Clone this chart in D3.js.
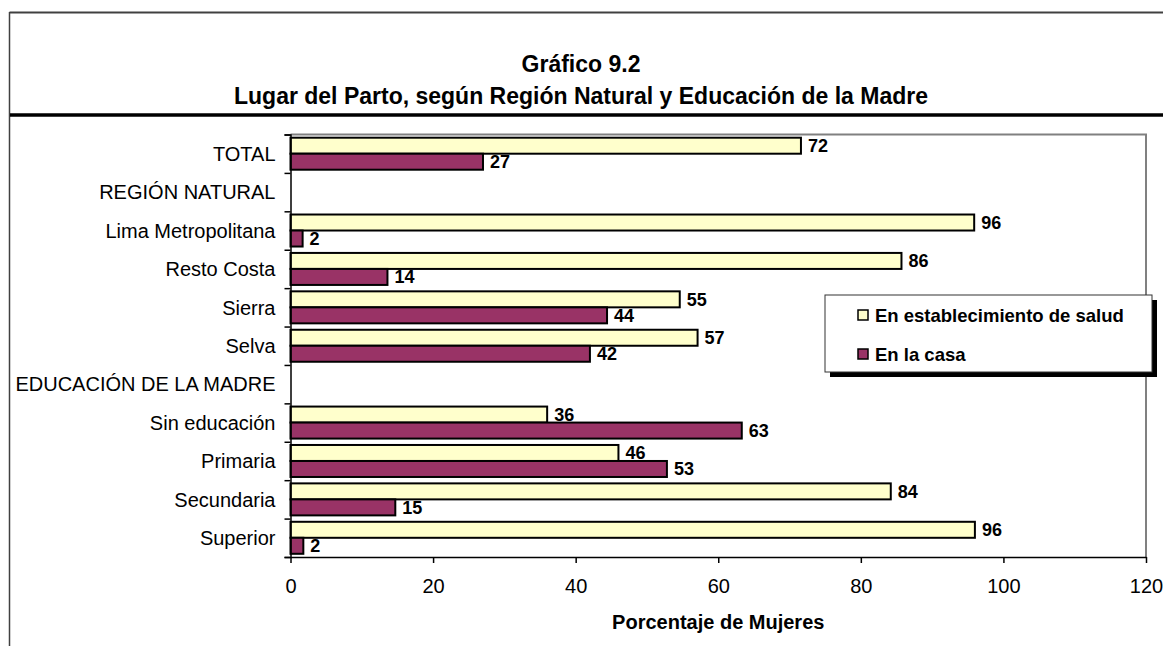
<!DOCTYPE html>
<html>
<head>
<meta charset="utf-8">
<script src="https://cdn.jsdelivr.net/npm/d3@7"></script>
<style>
    body { margin: 0; background: #fff; }
    svg text { font-family: "Liberation Sans", Arial, sans-serif; fill: #000; }
</style>
</head>
<body>
<svg id="chart"></svg>
<script>
const categories = ["TOTAL", "REGIÓN NATURAL", "Lima Metropolitana", "Resto Costa", "Sierra", "Selva",
    "EDUCACIÓN DE LA MADRE", "Sin educación", "Primaria", "Secundaria", "Superior"];
const establecimiento = [71.6, null, 95.9, 85.7, 54.6, 57.1, null, 36.0, 46.0, 84.2, 96.0];
const casa = [27.0, null, 1.7, 13.6, 44.4, 42.0, null, 63.3, 52.8, 14.7, 1.8];
const seriesNames = ["En establecimiento de salud", "En la casa"];
const xTicks = [0, 20, 40, 60, 80, 100, 120];
const titleLines = ["Gráfico 9.2", "Lugar del Parto, según Región Natural y Educación de la Madre"];
const axisTitle = "Porcentaje de Mujeres";

const width = 1163, height = 646;
const plot = { left: 290.5, right: 1146, top: 134.5, bottom: 557 };
const colors = ["#FFFFCC", "#993366"];

const svg = d3.select("#chart")
    .attr("width", width)
    .attr("height", height);

// outer frame and header rule
svg.append("line")
    .attr("x1", 9.5).attr("x2", width).attr("y1", 12.5).attr("y2", 12.5)
    .attr("stroke", "#404040").attr("stroke-width", 2);
svg.append("line")
    .attr("x1", 9.5).attr("x2", 9.5).attr("y1", 12).attr("y2", height)
    .attr("stroke", "#404040").attr("stroke-width", 1.5);
svg.append("line")
    .attr("x1", 10).attr("x2", width).attr("y1", 115).attr("y2", 115)
    .attr("stroke", "#000").attr("stroke-width", 3.5);

svg.selectAll("text.title")
    .data(titleLines)
    .join("text")
    .attr("class", "title")
    .attr("x", 581)
    .attr("y", (d, i) => 64 + i * 32)
    .attr("dy", "0.35em")
    .attr("text-anchor", "middle")
    .style("font-size", "23px")
    .style("font-weight", "bold")
    .text(d => d);

const x = d3.scaleLinear().domain([0, 120]).range([plot.left, plot.right]);
const y = d3.scaleBand().domain(categories).range([plot.top, plot.bottom]);
const sub = d3.scaleBand().domain([0, 1]).range([0, y.bandwidth()]).paddingOuter(0.2);

// plot frame (grey top and right)
svg.append("path")
    .attr("d", `M${plot.left},${plot.top}H${plot.right}V${plot.bottom}`)
    .attr("fill", "none")
    .attr("stroke", "#808080")
    .attr("stroke-width", 2);

const rows = categories.map((c, i) => ({ cat: c, values: [establecimiento[i], casa[i]] }));

const groups = svg.append("g").selectAll("g")
    .data(rows)
    .join("g")
    .attr("transform", d => `translate(0,${y(d.cat)})`);

const bars = groups.selectAll("g.bar")
    .data(d => d.values.map((v, s) => ({ v, s })).filter(e => e.v !== null))
    .join("g")
    .attr("class", "bar");

bars.append("rect")
    .attr("x", x(0))
    .attr("y", d => sub(d.s))
    .attr("width", d => x(d.v) - x(0))
    .attr("height", sub.bandwidth())
    .attr("fill", d => colors[d.s])
    .attr("stroke", "#000")
    .attr("stroke-width", 2);

bars.append("text")
    .attr("x", d => x(d.v) + 7)
    .attr("y", d => sub(d.s) + sub.bandwidth() / 2)
    .attr("dy", "0.36em")
    .style("font-size", "18px")
    .style("font-weight", "bold")
    .text(d => Math.round(d.v));

// category labels
svg.append("g")
    .selectAll("text")
    .data(categories)
    .join("text")
    .attr("x", 275.5)
    .attr("y", d => y(d) + y.bandwidth() / 2)
    .attr("dy", "0.36em")
    .attr("text-anchor", "end")
    .style("font-size", "20px")
    .text(d => d);

// left axis with ticks between categories
const yIdx = d3.scaleLinear().domain([0, categories.length]).range([plot.top, plot.bottom]);
svg.append("g")
    .attr("transform", `translate(${plot.left},0)`)
    .call(d3.axisLeft(yIdx).tickValues(d3.range(categories.length + 1)).tickSize(6).tickFormat(""))
    .call(g => g.selectAll("line, path").attr("stroke", "#000").attr("stroke-width", 1.5));

const xAxis = svg.append("g")
    .attr("transform", `translate(0,${plot.bottom})`)
    .call(d3.axisBottom(x).tickValues(xTicks).tickSize(6).tickPadding(16).tickSizeOuter(0));
xAxis.selectAll("line, path").attr("stroke", "#000").attr("stroke-width", 1.5);
xAxis.selectAll("text")
    .attr("fill", "#000")
    .style("font-family", "'Liberation Sans', Arial, sans-serif")
    .style("font-size", "20px");

svg.append("text")
    .attr("x", x(60))
    .attr("y", 622)
    .attr("dy", "0.35em")
    .attr("text-anchor", "middle")
    .style("font-size", "20px")
    .style("font-weight", "bold")
    .text(axisTitle);

// legend
const legend = svg.append("g").attr("transform", "translate(825,295)");
legend.append("rect")
    .attr("x", 5).attr("y", 5).attr("width", 327).attr("height", 77)
    .attr("fill", "#000");
legend.append("rect")
    .attr("width", 327).attr("height", 77)
    .attr("fill", "#fff").attr("stroke", "#333").attr("stroke-width", 1);
const items = legend.selectAll("g.item")
    .data(seriesNames)
    .join("g")
    .attr("class", "item")
    .attr("transform", (d, i) => `translate(0,${20 + i * 39})`);
items.append("rect")
    .attr("x", 33).attr("y", -5).attr("width", 10).attr("height", 10)
    .attr("fill", (d, i) => colors[i])
    .attr("stroke", "#000").attr("stroke-width", 1.5);
items.append("text")
    .attr("x", 50)
    .attr("dy", "0.36em")
    .style("font-size", "18.5px")
    .style("font-weight", "bold")
    .text(d => d);
</script>
</body>
</html>
